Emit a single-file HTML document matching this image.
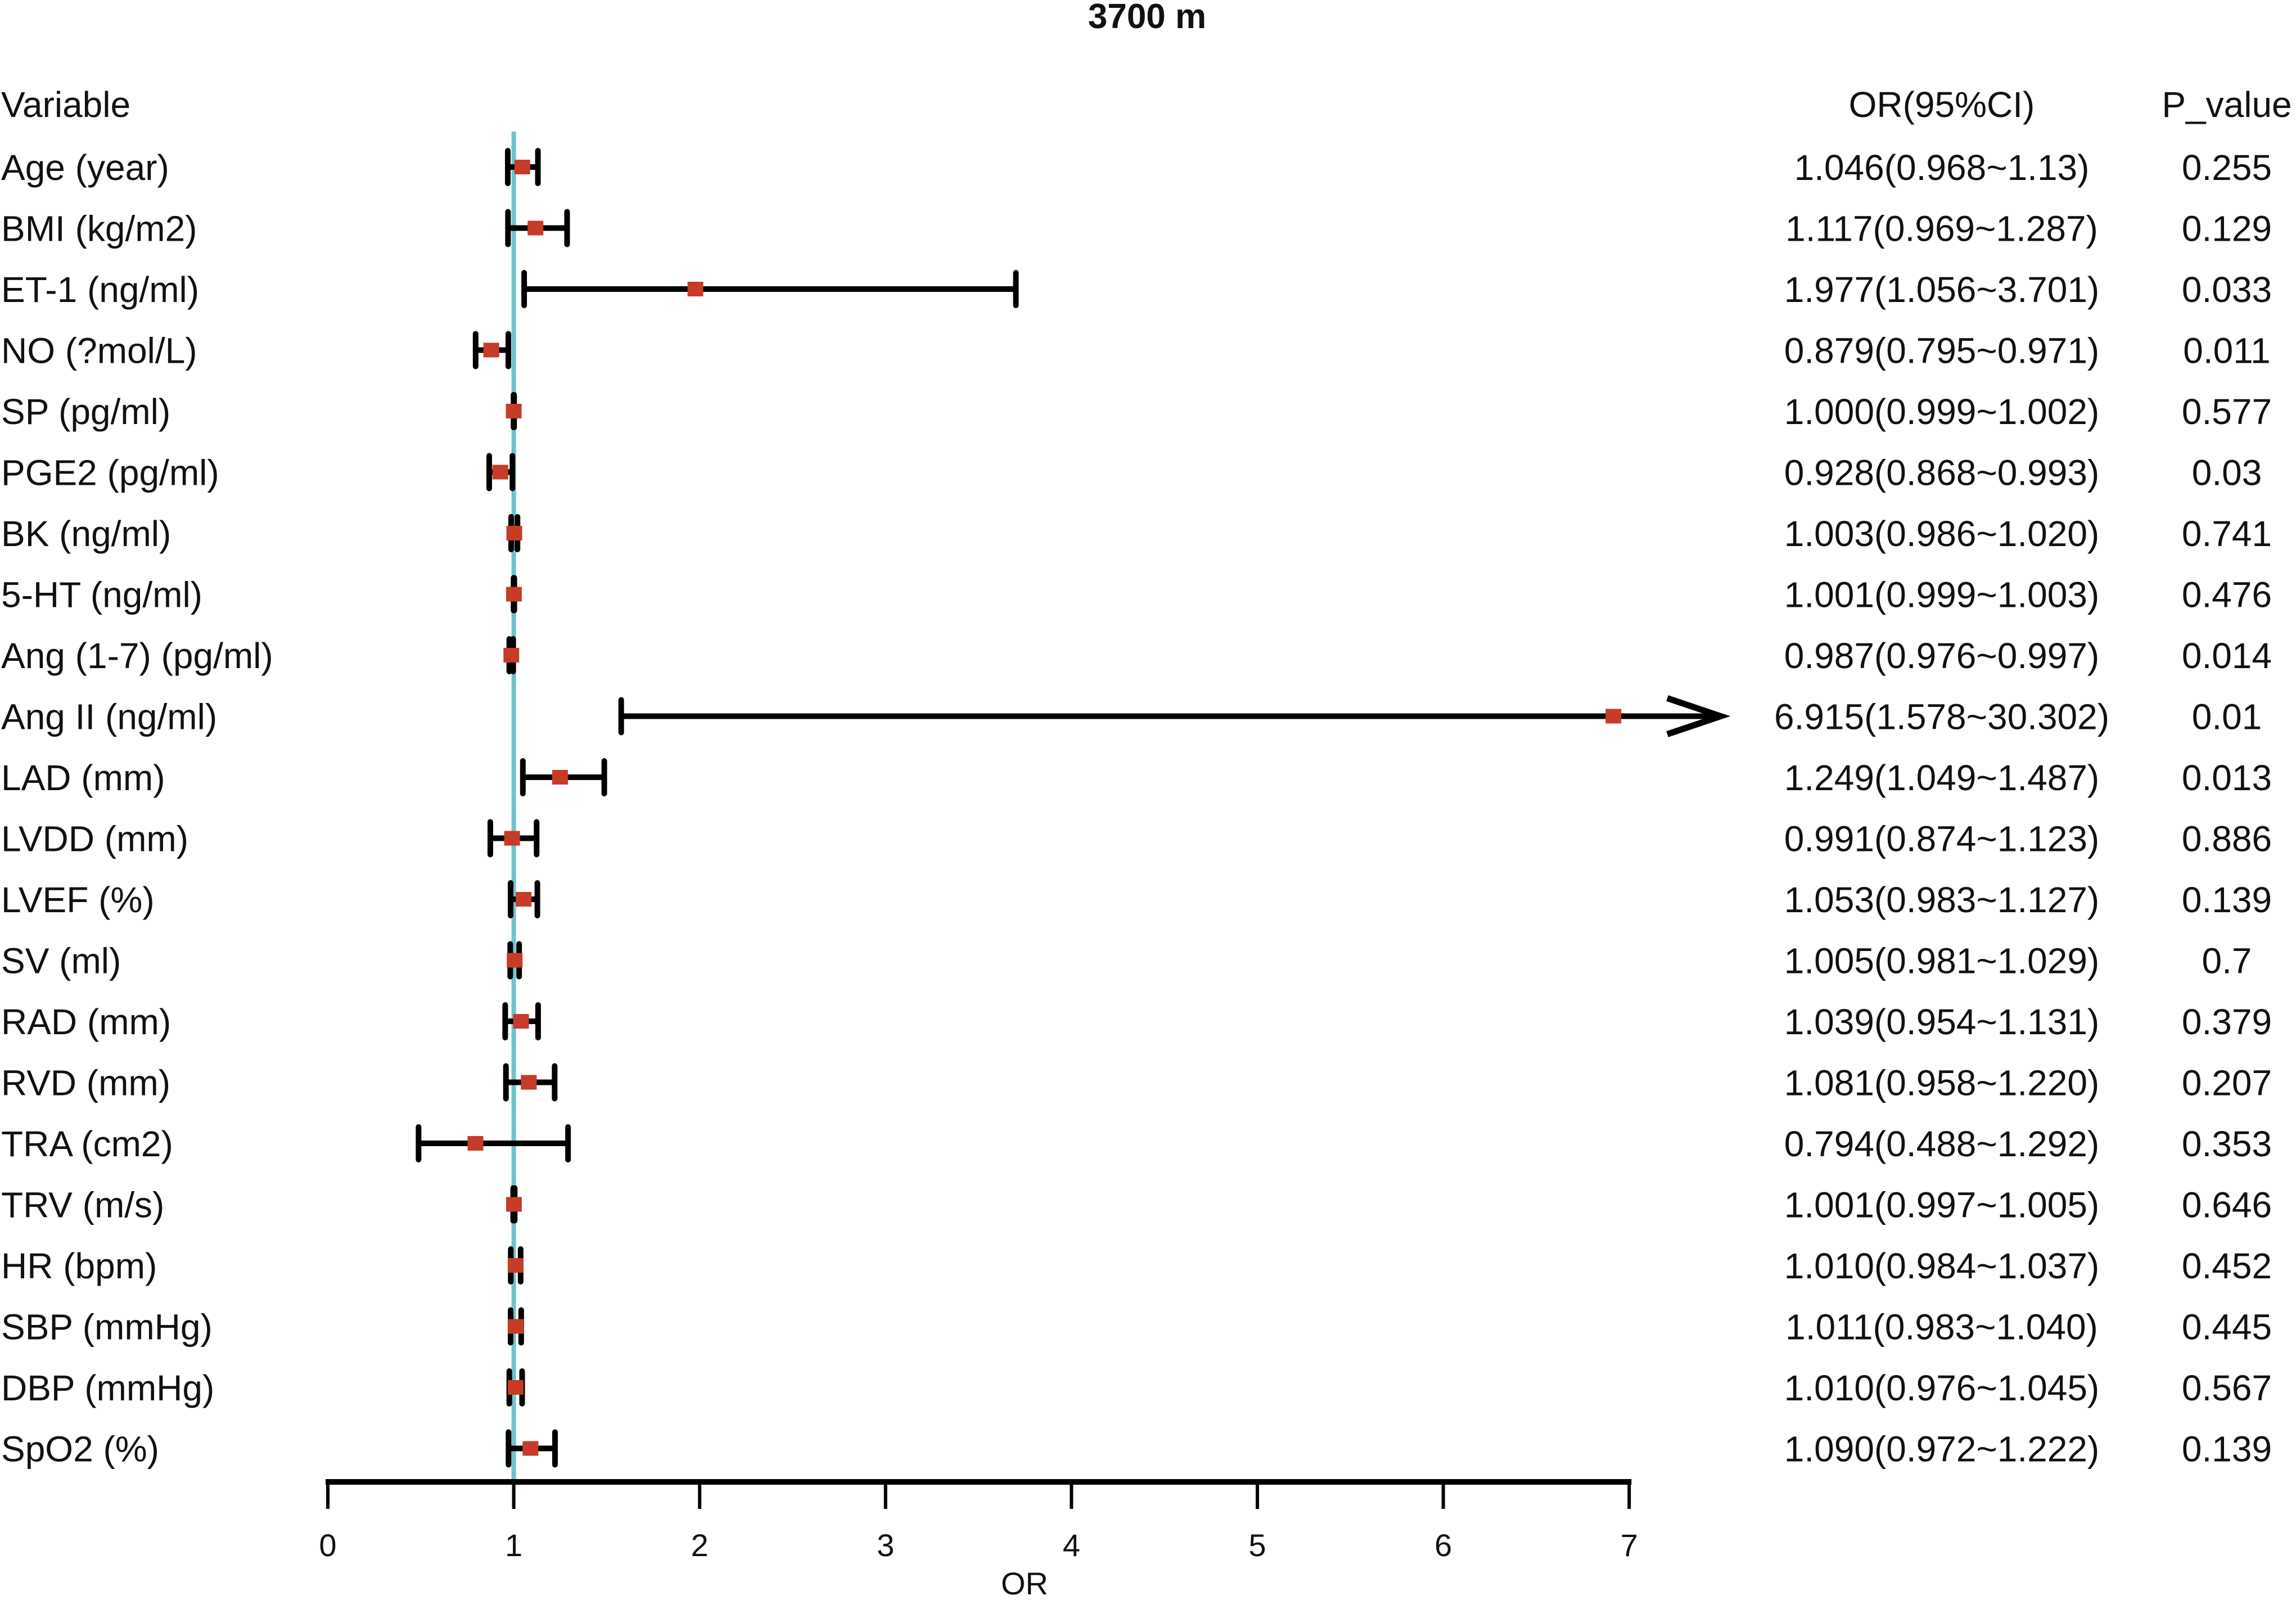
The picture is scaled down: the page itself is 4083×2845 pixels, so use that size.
<!DOCTYPE html>
<html><head><meta charset="utf-8"><style>
html,body{margin:0;padding:0;background:#fff}
svg text{font-family:"Liberation Sans",sans-serif;fill:#111}
</style></head><body>
<svg id="chart" width="4083" height="2840" viewBox="0 0 4083 2840" xmlns="http://www.w3.org/2000/svg">
<text x="2040" y="50" font-size="62" font-weight="bold" text-anchor="middle">3700 m</text>
<text x="2" y="208" font-size="64">Variable</text>
<text x="3453" y="208" font-size="64" text-anchor="middle">OR(95%CI)</text>
<text x="3960" y="208" font-size="64" text-anchor="middle">P_value</text>
<g id="rows"></g>
<g id="axis"></g>
</svg>
<script>
const labels=["Age (year)","BMI (kg/m2)","ET-1 (ng/ml)","NO (?mol/L)","SP (pg/ml)","PGE2 (pg/ml)","BK (ng/ml)","5-HT (ng/ml)","Ang (1-7) (pg/ml)","Ang II (ng/ml)","LAD (mm)","LVDD (mm)","LVEF (%)","SV (ml)","RAD (mm)","RVD (mm)","TRA (cm2)","TRV (m/s)","HR (bpm)","SBP (mmHg)","DBP (mmHg)","SpO2 (%)"];
const orVals=[1.046,1.117,1.977,0.879,1.000,0.928,1.003,1.001,0.987,6.915,1.249,0.991,1.053,1.005,1.039,1.081,0.794,1.001,1.010,1.011,1.010,1.090];
const loVals=[0.968,0.969,1.056,0.795,0.999,0.868,0.986,0.999,0.976,1.578,1.049,0.874,0.983,0.981,0.954,0.958,0.488,0.997,0.984,0.983,0.976,0.972];
const hiVals=[1.13,1.287,3.701,0.971,1.002,0.993,1.020,1.003,0.997,30.302,1.487,1.123,1.127,1.029,1.131,1.220,1.292,1.005,1.037,1.040,1.045,1.222];
const ciText=["1.046(0.968~1.13)","1.117(0.969~1.287)","1.977(1.056~3.701)","0.879(0.795~0.971)","1.000(0.999~1.002)","0.928(0.868~0.993)","1.003(0.986~1.020)","1.001(0.999~1.003)","0.987(0.976~0.997)","6.915(1.578~30.302)","1.249(1.049~1.487)","0.991(0.874~1.123)","1.053(0.983~1.127)","1.005(0.981~1.029)","1.039(0.954~1.131)","1.081(0.958~1.220)","0.794(0.488~1.292)","1.001(0.997~1.005)","1.010(0.984~1.037)","1.011(0.983~1.040)","1.010(0.976~1.045)","1.090(0.972~1.222)"];
const pVals=["0.255","0.129","0.033","0.011","0.577","0.03","0.741","0.476","0.014","0.01","0.013","0.886","0.139","0.7","0.379","0.207","0.353","0.646","0.452","0.445","0.567","0.139"];
const ticks=[0,1,2,3,4,5,6,7];

const NS="http://www.w3.org/2000/svg";
const X0=583,UNIT=330.6,Y0=297,DY=108.5,AXY=2635,CLIP=3060;
const xs=v=>X0+v*UNIT;
const ys=i=>Y0+i*DY;
function mk(tag,attrs,parent){const e=document.createElementNS(NS,tag);for(const k in attrs)e.setAttribute(k,attrs[k]);parent.appendChild(e);return e;}
const rows=document.getElementById('rows'),axis=document.getElementById('axis');
const ref=mk('line',{x1:xs(1),x2:xs(1),y1:234,y2:AXY,stroke:'#6fc3cc','stroke-width':8},rows);


labels.forEach((lab,i)=>{
  const y=ys(i);
  const g=mk('g',{},rows);
  
  
  const t=mk('text',{x:2,y:y+23,'font-size':64},g);t.textContent=lab;
  
  
  const lo=xs(loVals[i]);const hiRaw=xs(hiVals[i]);const clipped=hiRaw>CLIP;const hi=clipped?CLIP:hiRaw;
  const ln=mk('line',{x1:lo,x2:hi,y1:y,y2:y,stroke:'#000','stroke-width':10},g);
  
  
  const c1=mk('line',{x1:lo,x2:lo,y1:y-29,y2:y+29,stroke:'#000','stroke-width':10,'stroke-linecap':'round'},g);
  
  
  if(clipped){
    const a=mk('polyline',{points:`${hi-95},${y-32} ${hi},${y} ${hi-95},${y+32}`,fill:'none',stroke:'#000','stroke-width':11},g);
    
    
  }else{
    const c2=mk('line',{x1:hi,x2:hi,y1:y-29,y2:y+29,stroke:'#000','stroke-width':10,'stroke-linecap':'round'},g);
    
    
  }
  const m=mk('rect',{x:xs(orVals[i])-14,y:y-13,width:28,height:26,fill:'#c63c28'},g);
  
  
  const ct=mk('text',{x:3453,y:y+23,'font-size':64,'text-anchor':'middle'},g);ct.textContent=ciText[i];
  
  
  const pt=mk('text',{x:3960,y:y+23,'font-size':64,'text-anchor':'middle'},g);pt.textContent=pVals[i];
  
  
});
const al=mk('line',{x1:xs(ticks[0])-4,x2:xs(ticks[ticks.length-1])+4,y1:AXY,y2:AXY,stroke:'#000','stroke-width':10},axis);


ticks.forEach(v=>{
  const tk=mk('line',{x1:xs(v),x2:xs(v),y1:AXY,y2:AXY+48,stroke:'#000','stroke-width':6},axis);
  
  
  const tl=mk('text',{x:xs(v),y:2767,'font-size':56,'text-anchor':'middle'},axis);tl.textContent=v;
  
  
});
const xt=mk('text',{x:1822,y:2835,'font-size':56,'text-anchor':'middle'},axis);xt.textContent='OR';


</script>
</body></html>
